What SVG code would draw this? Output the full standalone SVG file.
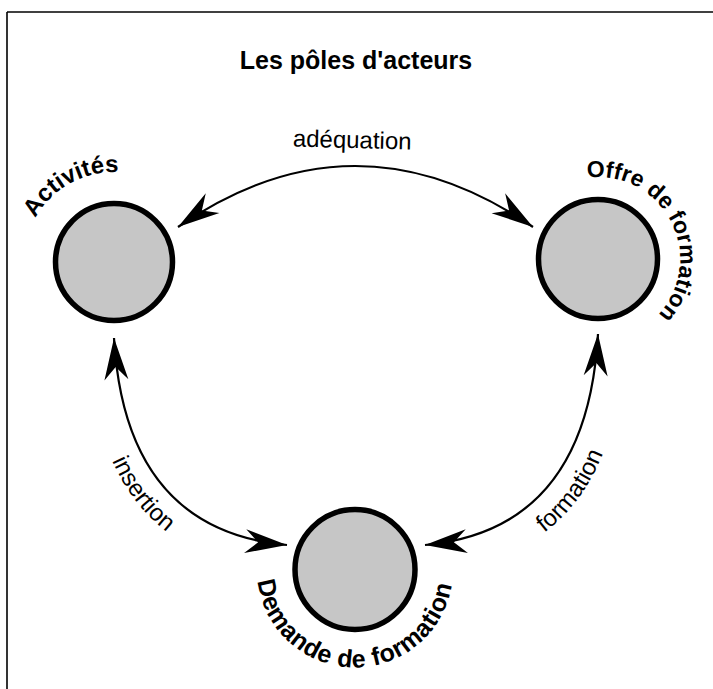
<svg xmlns="http://www.w3.org/2000/svg" width="713" height="689" viewBox="0 0 713 689">
<style>
.frame{fill:none;stroke:#000;stroke-width:1.6}
.pole{fill:#c6c6c6;stroke:#000;stroke-width:5.5}
.conn{fill:none;stroke:#000;stroke-width:2.2}
.title{font-family:"Liberation Sans",Arial,sans-serif;font-weight:bold;font-size:25px;fill:#000}
.plabel{font-family:"Liberation Sans",Arial,sans-serif;font-weight:bold;font-size:23px;fill:#000}
.clabel{font-family:"Liberation Sans",Arial,sans-serif;font-size:24px;fill:#000}
</style>
<defs>
<marker id="head" markerUnits="userSpaceOnUse" viewBox="-44 -15 48 30" refX="0" refY="0" markerWidth="48" markerHeight="30" orient="auto-start-reverse">
<path d="M0,0 L-42,-12 L-29,0 L-42,12 Z" fill="#000"/>
</marker>
<path id="pActivites" d="M24.01,260.43 A90,90 0 0 1 160.35,184.85"/>
<path id="pOffre" d="M566.62,183.24 A82,82 0 0 1 642.06,328.16"/>
<path id="pDemande" d="M257.24,576.34 A98,98 0 0 0 452.46,579.74"/>
<path id="pInsertion" d="M86,339 Q97,558 283,573"/>
<path id="pFormation" d="M429,573 Q615,558 626,339"/>
</defs>
<g id="frame">
<line class="frame" x1="7" y1="12" x2="713" y2="12"/>
<line class="frame" x1="7" y1="12" x2="7" y2="689"/>
</g>
<text class="title" x="356" y="69" text-anchor="middle">Les pôles d'acteurs</text>
<g id="connectors">
<g id="c-adequation">
<path class="conn" d="M178,227 Q355,105 533,227" marker-start="url(#head)" marker-end="url(#head)"/>
<text class="clabel" x="352" y="148" text-anchor="middle" transform="rotate(1.5 352 148)">adéquation</text>
</g>
<g id="c-insertion">
<path class="conn" d="M114,338 Q125,530 287,545" marker-start="url(#head)" marker-end="url(#head)"/>
<text class="clabel"><textPath href="#pInsertion" startOffset="50%" text-anchor="middle">insertion</textPath></text>
</g>
<g id="c-formation">
<path class="conn" d="M598,334 Q587,530 425,545" marker-start="url(#head)" marker-end="url(#head)"/>
<text class="clabel"><textPath href="#pFormation" startOffset="51%" text-anchor="middle">formation</textPath></text>
</g>
</g>
<g id="activites">
<circle class="pole" cx="114" cy="262" r="58.5"/>
<text class="plabel" style="font-size:24px"><textPath href="#pActivites" startOffset="50%" text-anchor="middle">Activités</textPath></text>
</g>
<g id="offre">
<circle class="pole" cx="598" cy="259" r="59.5"/>
<text class="plabel"><textPath href="#pOffre" startOffset="50%" text-anchor="middle">Offre de formation</textPath></text>
</g>
<g id="demande">
<circle class="pole" cx="355" cy="569.5" r="60"/>
<text class="plabel" style="font-size:25px;letter-spacing:0.5px"><textPath href="#pDemande" startOffset="50%" text-anchor="middle">Demande de formation</textPath></text>
</g>
</svg>
